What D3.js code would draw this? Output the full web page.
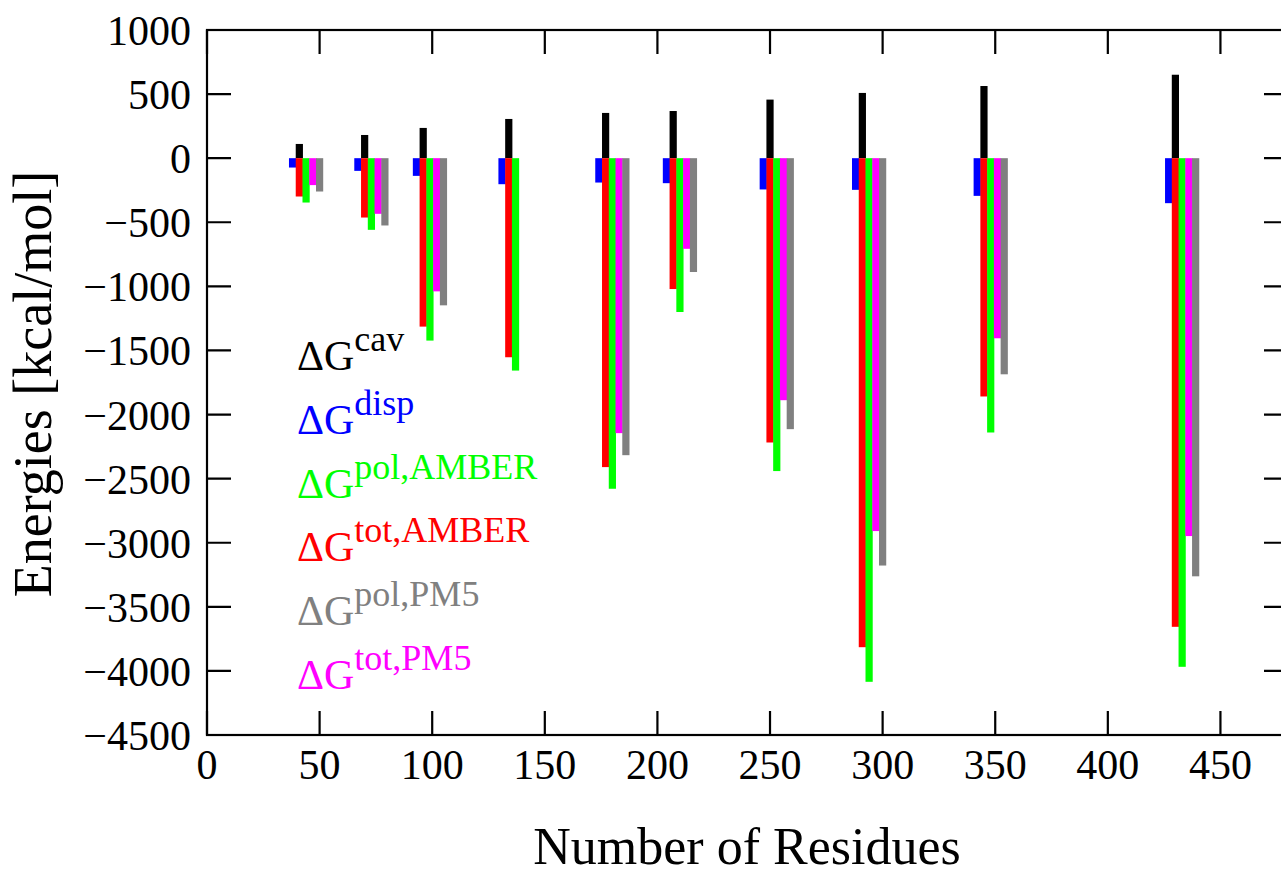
<!DOCTYPE html>
<html>
<head>
<meta charset="utf-8">
<script src="https://cdn.jsdelivr.net/npm/d3@7"></script>
<style>
  body { margin: 0; background: #fff; }
  svg { display: block; }
  text { font-family: "Liberation Serif", "Times New Roman", serif; }
</style>
</head>
<body>
<div id="chart"></div>
<script>
// number of residues of each protein
const residues = [41, 70, 96, 134, 177, 207, 250, 291, 345, 430];

// energies in kcal/mol
const cav      = [111, 181, 236, 306, 353, 368, 457, 509, 563, 651];
const disp     = [-73, -99, -138, -203, -190, -195, -244, -247, -294, -351];
const polAmber = [-346, -559, -1423, -1657, -2579, -1200, -2441, -4085, -2140, -3968];
const totAmber = [-299, -463, -1314, -1553, -2410, -1021, -2218, -3815, -1859, -3656];
const polPM5   = [-260, -525, -1148, null, -2317, -888, -2114, -3178, -1686, -3262];
const totPM5   = [-210, -434, -1039, null, -2145, -707, -1888, -2909, -1405, -2948];

const xTicks = [0, 50, 100, 150, 200, 250, 300, 350, 400, 450];
const yTicks = [1000, 500, 0, -500, -1000, -1500, -2000, -2500, -3000, -3500, -4000, -4500];

const width = 1281,
  height = 876,
  tickLen = 24,
  barHalf = 1.6;

const x = d3.scaleLinear().domain([0, 480]).range([207, 1288]);
const y = d3.scaleLinear().domain([-4500, 1000]).range([735, 30]);

const svg = d3.select("#chart").append("svg")
  .attr("width", width)
  .attr("height", height);

// bars: offset along x in residues, drawn in this order
var series = [
  { values: disp, offset: -3, color: "#0000ff" },
  { values: cav, offset: 0, color: "#000000" },
  { values: totAmber, offset: 0, color: "#ff0000" },
  { values: polAmber, offset: 3, color: "#00ff00" },
  { values: totPM5, offset: 6, color: "#ff00ff" },
  { values: polPM5, offset: 9, color: "#808080" }
];

series.forEach(function (s) {
  var rows = residues.map(function (r, i) { return { r: r + s.offset, v: s.values[i] }; })
    .filter(function (d) { return d.v != null; });

  svg.append("g").selectAll("rect")
    .data(rows)
    .enter().append("rect")
    .attr("x", function (d) { return x(d.r - barHalf); })
    .attr("width", function (d) { return x(d.r + barHalf) - x(d.r - barHalf); })
    .attr("y", function (d) { return y(Math.max(0, d.v)); })
    .attr("height", function (d) { return Math.abs(y(d.v) - y(0)); })
    .attr("fill", s.color);
});

// frame and ticks (inward on all four sides)
const axes = svg.append("g").attr("stroke", "#000").attr("stroke-width", 2.2);

axes.append("rect")
  .attr("x", x(0)).attr("y", y(1000))
  .attr("width", x(480) - x(0)).attr("height", y(-4500) - y(1000))
  .attr("fill", "none");

axes.selectAll(".xt")
  .data(xTicks)
  .enter().append("path")
  .attr("d", function (d) {
    return "M" + x(d) + "," + y(-4500) + "v" + (-tickLen) +
      "M" + x(d) + "," + y(1000) + "v" + tickLen;
  });

axes.selectAll(".yt")
  .data(yTicks)
  .enter().append("path")
  .attr("d", function (d) {
    return "M" + x(0) + "," + y(d) + "h" + tickLen +
      "M" + x(480) + "," + y(d) + "h" + (-tickLen);
  });

function fmt(v) {
  return v < 0 ? "\u2212" + Math.abs(v) : String(v);
}

svg.append("g").selectAll("text")
  .data(yTicks)
  .enter().append("text")
  .attr("x", 191)
  .attr("y", function (d) { return y(d) + 15; })
  .attr("text-anchor", "end")
  .attr("font-size", 42)
  .text(fmt);

svg.append("g").selectAll("text")
  .data(xTicks)
  .enter().append("text")
  .attr("x", function (d) { return x(d); })
  .attr("y", 779)
  .attr("text-anchor", "middle")
  .attr("font-size", 42)
  .text(fmt);

svg.append("text")
  .attr("x", 747)
  .attr("y", 864)
  .attr("text-anchor", "middle")
  .attr("font-size", 52)
  .text("Number of Residues");

svg.append("text")
  .attr("transform", "translate(51,384) rotate(-90)")
  .attr("text-anchor", "middle")
  .attr("font-size", 54)
  .text("Energies [kcal/mol]");

// legend labels
var legend = [
  { sup: "cav", color: "#000000" },
  { sup: "disp", color: "#0000ff" },
  { sup: "pol,AMBER", color: "#00ff00" },
  { sup: "tot,AMBER", color: "#ff0000" },
  { sup: "pol,PM5", color: "#808080" },
  { sup: "tot,PM5", color: "#ff00ff" }
];

var lab = svg.append("g").selectAll("text")
  .data(legend)
  .enter().append("text")
  .attr("x", 297)
  .attr("y", function (d, i) { return 370 + i * 63.8; })
  .attr("font-size", 42)
  .attr("fill", function (d) { return d.color; });

lab.append("tspan").text("\u0394G");
lab.append("tspan")
  .attr("dy", -19)
  .attr("font-size", 36)
  .text(function (d) { return d.sup; });
</script>
</body>
</html>
